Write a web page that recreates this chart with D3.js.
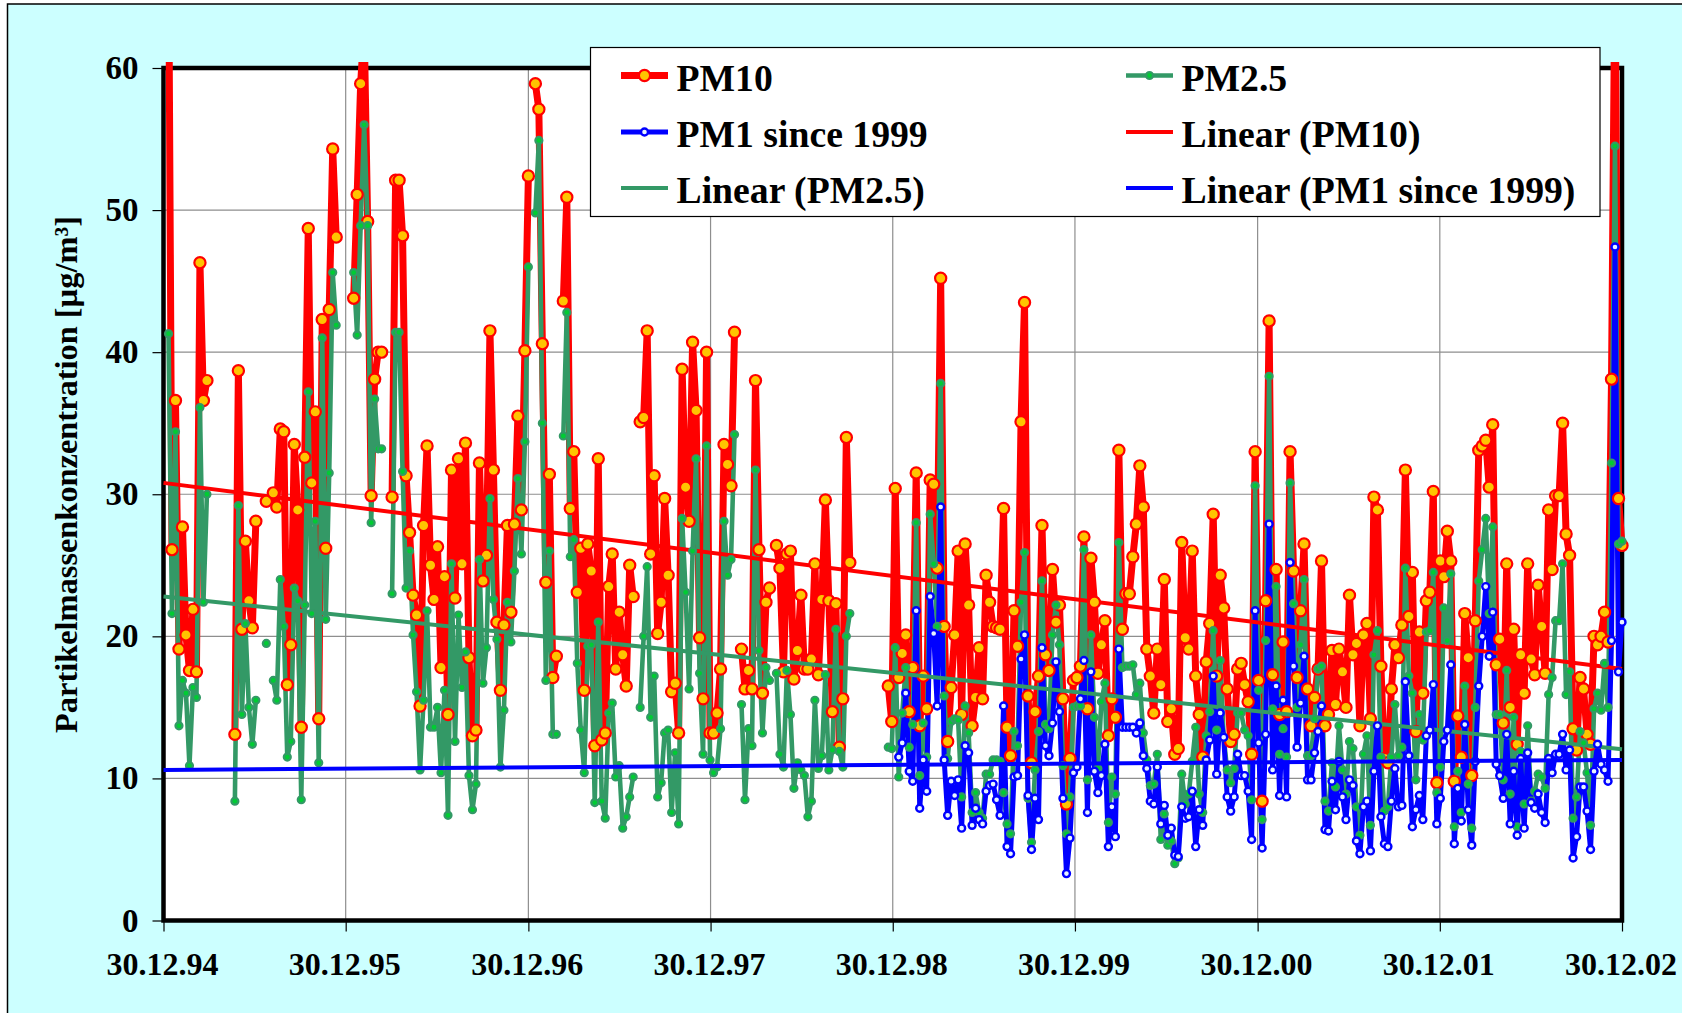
<!DOCTYPE html>
<html>
<head>
<meta charset="utf-8">
<script src="https://cdn.jsdelivr.net/npm/d3@7"></script>
<style>
  html, body { margin: 0; padding: 0; background: #fff; overflow: hidden; }
  text { font-family: "Liberation Serif", "Times New Roman", serif; font-weight: 700; fill: #000; }
</style>
</head>
<body>
<div id="chart"></div>
<script>
const n = null; // no sample that week

// weekly samples, first one on 09.01.95
const pm10 = [
  70, 26.1, 36.6, 19.1, 27.7, 20.1, 17.6, 21.9, 17.5, 46.3,
  36.6, 38.0, n, n, n, n, n, n, n, 13.1,
  38.7, 20.5, 26.7, 22.5, 20.6, 28.1, n, n, 29.5, n,
  30.1, 29.1, 34.6, 34.4, 16.6, 19.4, 33.5, 28.9, 13.6, 32.6,
  48.7, 30.8, 35.8, 14.2, 42.3, 26.2, 43.0, 54.3, 48.1, n,
  n, n, n, 43.8, 51.1, 58.9, 63, 49.2, 29.9, 38.1,
  40.0, 40.0, n, n, 29.8, 52.1, 52.1, 48.2, 31.3, 27.3,
  22.9, 21.5, 15.1, 27.8, 33.4, 25.0, 22.6, 26.3, 17.8, 24.2,
  14.5, 31.7, 22.7, 32.5, 25.1, 33.6, 18.5, 13.0, 13.4, 32.2,
  23.9, 25.7, 41.5, 31.7, 21.0, 16.2, 20.8, 27.8, 21.7, 27.9,
  35.5, 28.9, 40.1, 52.4, n, 58.9, 57.1, 40.6, 23.8, 31.4,
  17.1, 18.6, n, 43.6, 50.9, 29.0, 33.0, 23.1, 26.2, 16.2,
  26.5, 24.6, 12.3, 32.5, 12.7, 13.2, 23.5, 25.8, 17.7, 21.7,
  18.7, 16.5, 25.0, 22.8, n, 35.1, 35.4, 41.5, 25.8, 31.3,
  20.2, 22.4, 29.7, 24.3, 16.1, 16.7, 13.2, 38.8, 30.5, 28.1,
  40.7, 35.9, 19.9, 15.6, 40.0, 13.2, 13.2, 14.6, 17.7, 33.5,
  32.1, 30.6, 41.4, n, 19.1, 16.3, 17.6, 16.3, 38.0, 26.1,
  16.0, 22.4, 23.4, n, 26.4, 24.8, 17.5, 25.8, 26.0, 17.0,
  19.0, 22.9, 17.7, 17.7, 18.4, 25.1, 17.3, 22.6, 29.6, 22.5,
  14.7, 22.3, 12.2, 15.6, 34.0, 25.2, n, n, n, n,
  n, n, n, n, n, n, 16.5, 14.0, 30.4, 17.1,
  18.8, 20.1, 14.7, 17.8, 31.5, 13.7, 17.2, 14.9, 31.0, 30.7,
  24.8, 45.2, 20.7, 12.6, 16.4, 20.1, 26.0, 14.5, 26.5, 22.2,
  13.7, 15.7, 19.2, 15.6, 24.3, 22.4, 20.7, 20.6, 20.5, 29.0,
  13.6, 11.6, 21.8, 19.3, 35.1, 43.5, 15.8, 11.1, 14.7, 17.2,
  27.8, 18.7, 17.6, 24.7, 21.0, 22.2, 15.6, 8.2, 11.4, 16.9,
  17.1, 17.9, 27.0, 14.9, 25.5, 22.4, 17.4, 19.4, 21.1, 13.0,
  15.6, 14.3, 33.1, 20.5, 23.0, 23.0, 25.6, 27.9, 32.0, 29.1,
  19.1, 17.2, 14.6, 19.1, 16.6, 24.0, 14.0, 14.9, 11.7, 12.1,
  26.6, 19.9, 19.1, 26.0, 17.2, 14.5, 11.5, 18.2, 20.9, 28.6,
  17.2, 24.3, 22.0, 16.3, 12.6, 13.1, 17.7, 18.1, 16.6, 15.4,
  11.7, 33.0, 16.9, 8.4, 22.5, 42.2, 17.3, 24.7, 14.5, 19.6,
  14.7, 33.0, 24.6, 17.1, 21.8, 26.5, 16.3, 13.7, 15.7, 17.7,
  25.3, 13.7, 14.5, 19.0, 15.2, 19.1, 17.5, 15.0, 22.9, 18.7,
  19.5, 13.7, 20.1, 20.9, 14.2, 29.8, 28.9, 17.9, 11.4, 11.1,
  16.3, 19.4, 18.5, 20.8, 31.7, 21.4, 24.5, 13.3, 20.3, 16.0,
  22.5, 23.1, 30.2, 9.7, 25.3, 24.2, 27.4, 25.3, 9.8, 14.4,
  11.5, 21.6, 18.5, 10.2, 21.1, 33.1, 33.4, 33.8, 30.5, 34.9,
  18.0, 19.8, 13.9, 25.1, 15.0, 20.5, 12.4, 18.7, 16.0, 25.1,
  18.4, 17.3, 23.6, 20.7, 17.4, 28.9, 24.7, 29.9, 29.9, 35.0,
  27.2, 25.7, 13.5, 12.0, 17.1, 16.3, 13.1, 12.4, 20.0, 19.4,
  20.0, 21.7, 19.6, 38.1, 68, 29.7, 26.4
];

const pm25 = [
  41.3, 21.6, 34.4, 13.7, 16.9, 16.0, 10.9, 16.4, 15.7, 36.1,
  22.4, 30.0, n, n, n, n, n, n, n, 8.4,
  29.2, 14.5, 20.9, 15.0, 12.4, 15.5, n, n, 19.5, n,
  16.9, 15.5, 24.0, 20.7, 11.5, 12.6, 23.4, 22.5, 8.5, 22.2,
  37.2, 21.6, 28.1, 11.1, 41.0, 21.2, 31.5, 45.6, 41.9, n,
  n, n, n, 45.6, 41.2, 48.9, 56.0, 48.9, 28.0, 36.7,
  33.2, 33.2, n, n, 23.0, 41.4, 41.4, 31.6, 23.4, 26.0,
  20.1, 16.1, 10.6, 15.5, 21.8, 13.6, 13.6, 15.0, 10.4, 16.2,
  7.4, 25.1, 12.6, 21.5, 16.4, 18.9, 10.2, 7.8, 9.6, 25.4,
  16.7, 19.2, 29.7, 22.6, 19.8, 10.8, 14.8, 22.4, 19.6, 24.6,
  31.1, 25.8, 33.7, 46.0, n, 49.8, 54.9, 35.0, 16.9, 26.0,
  13.1, 13.1, n, 34.1, 42.8, 25.6, 26.8, 18.1, 13.4, 10.4,
  19.3, 19.4, 8.3, 21.0, 8.4, 7.2, 14.6, 15.3, 10.1, 10.9,
  6.5, 7.3, 8.7, 10.1, n, 15.0, 20.0, 24.9, 14.3, 17.2,
  8.7, 9.7, 13.2, 13.4, 7.6, 11.8, 6.8, 28.3, 23.1, 16.3,
  26.0, 32.5, 17.4, 11.7, 33.4, 11.3, 10.4, 10.8, 13.5, 28.1,
  24.3, 25.4, 34.2, n, 15.2, 8.5, 13.5, 12.3, 31.7, 19.0,
  13.2, 17.8, 16.9, n, 17.4, 11.7, 10.8, 17.6, 14.5, 9.3,
  11.1, 10.6, 10.2, 7.3, 8.4, 15.5, 10.7, 11.6, 17.3, 10.6,
  12.0, 20.5, 11.9, 10.8, 20.0, 21.6, n, n, n, n,
  n, n, n, n, n, n, 12.2, 12.1, 19.2, 10.1,
  14.6, 17.8, 12.2, 13.8, 28.0, 10.2, 13.9, 11.5, 28.6, 25.1,
  20.7, 37.8, 15.8, 11.4, 14.0, 14.2, 14.1, 8.7, 15.1, 13.2,
  7.6, 9.0, 7.6, 7.2, 10.3, 10.3, 11.3, 11.3, 11.2, 9.0,
  6.8, 6.1, 13.3, 12.3, 22.4, 25.9, 8.6, 5.5, 10.6, 13.3,
  23.9, 13.8, 13.5, 20.1, 22.2, 19.4, 10.9, 6.1, 8.7, 15.0,
  15.1, 15.1, 26.1, 9.9, 20.1, 14.3, 10.7, 15.4, 16.7, 6.9,
  10.1, 8.9, 26.6, 17.8, 17.9, 17.9, 18.0, 15.9, 16.7, 13.2,
  11.3, 9.5, 9.6, 11.7, 5.7, 7.5, 5.3, 5.6, 4.0, 4.4,
  10.3, 8.2, 8.9, 11.2, 13.6, 8.9, 7.6, 13.0, 14.7, 20.4,
  13.4, 18.3, 12.9, 10.6, 9.7, 10.7, 14.6, 14.6, 13.4, 13.0,
  8.5, 30.6, 16.2, 7.1, 19.7, 38.3, 14.9, 23.5, 11.7, 13.5,
  11.5, 30.8, 22.3, 15.0, 19.4, 24.0, 11.6, 11.6, 14.2, 17.7,
  17.9, 8.4, 7.7, 11.1, 9.4, 13.7, 10.6, 8.9, 12.6, 12.1,
  8.0, 6.0, 11.7, 13.0, 6.7, 18.7, 20.4, 11.5, 7.7, 8.0,
  11.5, 15.2, 11.6, 12.2, 24.8, 17.2, 16.0, 9.9, 14.5, 12.7,
  20.3, 20.4, 24.5, 9.0, 10.8, 22.0, 19.7, 24.4, 6.6, 10.5,
  7.6, 16.5, 9.6, 6.5, 15.0, 23.9, 26.1, 28.3, 21.6, 27.7,
  14.5, 14.5, 9.9, 17.6, 8.9, 14.3, 6.6, 11.9, 8.2, 13.7,
  8.4, 9.1, 10.3, 10.1, 9.3, 15.9, 17.1, 21.1, 21.1, 25.1,
  15.9, 17.5, 7.2, 8.7, 13.3, 12.5, 10.4, 6.7, 14.9, 16.0,
  14.8, 18.1, 15.0, 32.2, 54.5, 26.5, 26.7
];

// PM1 was only measured from sample 209 on
const pm1FirstSample = 209;
const pm1 = [
  11.5,
  12.5, 16.0, 10.5, 9.8, 21.8, 7.9, 11.3, 9.1, 22.8, 20.2,
  15.1, 29.1, 11.3, 7.4, 9.8, 8.8, 9.9, 6.5, 12.3, 11.8,
  6.7, 7.9, 7.1, 6.8, 9.1, 9.5, 9.6, 8.5, 7.4, 15.1,
  5.2, 4.7, 10.1, 10.2, 18.4, 20.1, 8.8, 5.0, 8.6, 7.1,
  19.2, 12.3, 11.6, 13.9, 18.2, 14.7, 8.6, 3.3, 5.8, 10.4,
  10.8, 15.6, 18.3, 7.6, 17.5, 10.5, 9.0, 10.2, 12.4, 5.2,
  8.0, 5.9, 19.1, 13.6, 13.6, 13.6, 13.6, 13.2, 13.9, 11.6,
  10.7, 8.4, 8.2, 10.8, 6.8, 8.1, 6.0, 6.5, 4.6, 4.5,
  8.0, 7.2, 7.3, 9.1, 5.2, 7.8, 6.7, 11.3, 12.7, 17.2,
  10.3, 14.6, 12.9, 8.7, 7.7, 8.7, 11.7, 10.2, 10.2, 9.1,
  5.7, 21.8, 12.5, 5.1, 13.1, 27.9, 10.6, 16.5, 8.8, 15.5,
  8.7, 25.2, 17.9, 12.2, 15.3, 18.6, 9.9, 9.9, 11.8, 13.3,
  15.1, 6.4, 6.3, 9.8, 7.8, 11.2, 8.7, 7.1, 9.9, 9.5,
  5.6, 4.7, 8.0, 8.4, 4.9, 10.5, 13.7, 7.3, 5.4, 5.2,
  8.4, 10.7, 8.0, 8.1, 16.8, 11.6, 6.6, 7.8, 8.8, 7.1,
  13.0, 13.4, 16.6, 6.8, 8.6, 12.6, 13.4, 18.0, 5.4, 9.3,
  7.0, 13.8, 7.8, 5.3, 11.2, 16.5, 20.0, 23.5, 18.6, 21.7,
  11.0, 10.2, 8.6, 13.1, 6.8, 10.5, 6.0, 11.4, 6.5, 11.8,
  8.3, 7.9, 8.9, 7.6, 6.9, 11.4, 10.4, 11.7, 11.7, 13.1,
  10.6, 12.0, 4.4, 5.9, 9.4, 9.4, 7.7, 5.0, 10.5, 12.4,
  11.0, 10.6, 9.8, 19.7, 47.4, 17.5, 21.0
];

// trend lines, value at left and right end of the axis
const trendPm10 = [30.8, 17.7];
const trendPm25 = [22.8, 12.05];
const trendPm1 = [10.6, 11.3];

const xTickLabels = ['30.12.94', '30.12.95', '30.12.96', '30.12.97', '30.12.98', '30.12.99', '30.12.00', '30.12.01', '30.12.02'];
const yTicks = [0, 10, 20, 30, 40, 50, 60];
const yTitle = 'Partikelmassenkonzentration [µg/m³]';

const RED = '#ff0000', GREEN = '#339966', BLUE = '#0000ff';
const GOLD = '#ffc400', LIME = '#00cc33', PALE = '#e8f4ff';

const W = 1682, H = 1013;
const margin = { top: 68, right: 60, bottom: 92.5, left: 163.5 };

const parseTick = d3.timeParse('%d.%m.%y');
const xDates = xTickLabels.map(parseTick);
const firstSample = new Date(1995, 0, 9);
const sampleDate = i => d3.timeDay.offset(firstSample, i * 7);

const x = d3.scaleTime().domain([xDates[0], xDates[xDates.length - 1]]).range([margin.left, W - margin.right]);
const y = d3.scaleLinear().domain([0, 60]).range([H - margin.bottom, margin.top]);

const svg = d3.select('#chart').append('svg').attr('width', W).attr('height', H).style('display', 'block');

// background panel runs off the right and bottom of the image
svg.append('rect').attr('x', 7.5).attr('y', 4).attr('width', W).attr('height', H)
  .attr('fill', '#ccffff').attr('stroke', '#000').attr('stroke-width', 1.5);

svg.append('rect').attr('x', x.range()[0]).attr('y', y(60)).attr('width', x.range()[1] - x.range()[0]).attr('height', y(0) - y(60))
  .attr('fill', '#fff');

svg.append('g').selectAll('line').data(yTicks.slice(1, -1)).join('line')
  .attr('x1', x.range()[0]).attr('x2', x.range()[1]).attr('y1', d => y(d)).attr('y2', d => y(d))
  .attr('stroke', '#8e8e8e').attr('stroke-width', 1.2);
svg.append('g').selectAll('line').data(xDates.slice(1, -1)).join('line')
  .attr('x1', d => x(d)).attr('x2', d => x(d)).attr('y1', y(60)).attr('y2', y(0))
  .attr('stroke', '#8e8e8e').attr('stroke-width', 1.2);

// axes
const axisY = svg.append('g').attr('transform', `translate(${margin.left},0)`)
  .call(d3.axisLeft(y).tickValues(yTicks).tickSize(11).tickPadding(14));
const axisX = svg.append('g').attr('transform', `translate(0,${H - margin.bottom})`)
  .call(d3.axisBottom(x).tickValues(xDates).tickFormat((d, i) => xTickLabels[i]).tickSize(11).tickPadding(21));
[axisY, axisX].forEach(g => {
  g.select('.domain').remove();
  g.selectAll('.tick line').attr('stroke', '#000').attr('stroke-width', 1.2);
  g.selectAll('.tick text').attr('fill', '#000')
    .style('font-family', '"Liberation Serif", serif').style('font-weight', 700);
});
axisY.selectAll('.tick text').attr('font-size', 33);
axisX.selectAll('.tick text').attr('font-size', 32).attr('dx', -1.5);

svg.append('text').attr('transform', `translate(76.5,474.5) rotate(-90)`)
  .attr('text-anchor', 'middle').attr('font-size', 32.4).text(yTitle);

// plot frame
svg.append('rect').attr('x', x.range()[0]).attr('y', y(60)).attr('width', x.range()[1] - x.range()[0]).attr('height', y(0) - y(60))
  .attr('fill', 'none').attr('stroke', '#000').attr('stroke-width', 4.5);

svg.append('clipPath').attr('id', 'plot-clip').append('rect')
  .attr('x', 150).attr('y', 62).attr('width', W - 150 - 50).attr('height', y(0) - 62);

const plot = svg.append('g').attr('clip-path', 'url(#plot-clip)');

const series = [
  { values: pm10, offset: 0, color: RED, width: 7 },
  { values: pm25, offset: 0, color: GREEN, width: 4.6 },
  { values: pm1, offset: pm1FirstSample, color: BLUE, width: 5 },
];
series.forEach(s => {
  s.points = s.values.map((v, i) => ({ date: sampleDate(i + s.offset), v })).filter(d => d.v !== null);
  s.line = d3.line().defined(d => d.v !== null)
    .x(d => x(d.date)).y(d => y(d.v));
  plot.append('path').datum(s.values.map((v, i) => ({ date: sampleDate(i + s.offset), v })))
    .attr('fill', 'none').attr('stroke', s.color).attr('stroke-width', s.width)
    .attr('stroke-linejoin', 'round').attr('d', s.line);
});

function drawTrend(vals, color) {
  plot.append('line')
    .attr('x1', x.range()[0]).attr('x2', x.range()[1])
    .attr('y1', y(vals[0])).attr('y2', y(vals[1]))
    .attr('stroke', color).attr('stroke-width', 4);
}

function drawMarkers(pts, r, fill, stroke, sw) {
  plot.append('g').selectAll('circle').data(pts).join('circle')
    .attr('cx', d => x(d.date)).attr('cy', d => y(d.v)).attr('r', r)
    .attr('fill', fill).attr('stroke', stroke).attr('stroke-width', sw);
}

drawTrend(trendPm10, RED);
drawMarkers(series[0].points, 5.6, GOLD, RED, 2.2);
drawTrend(trendPm25, GREEN);
drawMarkers(series[1].points, 3.5, LIME, GREEN, 2.2);
drawMarkers(series[2].points, 3.5, PALE, BLUE, 2.4);
drawTrend(trendPm1, BLUE);

// legend
const legend = svg.append('g');
legend.append('rect').attr('x', 590.5).attr('y', 47.5).attr('width', 1009.5).attr('height', 169)
  .attr('fill', '#fff').attr('stroke', '#000').attr('stroke-width', 1.2);

const legendRows = [
  { label: 'PM10', col: 0, row: 0, color: RED, width: 7, marker: [5.6, GOLD, 2.2] },
  { label: 'PM2.5', col: 1, row: 0, color: GREEN, width: 4.6, marker: [3.5, LIME, 2.2] },
  { label: 'PM1 since 1999', col: 0, row: 1, color: BLUE, width: 5, marker: [3.5, PALE, 2.4] },
  { label: 'Linear (PM10)', col: 1, row: 1, color: RED, width: 4 },
  { label: 'Linear (PM2.5)', col: 0, row: 2, color: GREEN, width: 4 },
  { label: 'Linear (PM1 since 1999)', col: 1, row: 2, color: BLUE, width: 4 },
];
const colX = [621, 1126], rowY = [75.5, 132, 188];
legendRows.forEach(d => {
  const lx = colX[d.col], ly = rowY[d.row];
  legend.append('line').attr('x1', lx).attr('x2', lx + 47).attr('y1', ly).attr('y2', ly)
    .attr('stroke', d.color).attr('stroke-width', d.width);
  if (d.marker) {
    legend.append('circle').attr('cx', lx + 23.5).attr('cy', ly).attr('r', d.marker[0])
      .attr('fill', d.marker[1]).attr('stroke', d.color).attr('stroke-width', d.marker[2]);
  }
  legend.append('text').attr('x', lx + 55.5).attr('y', ly + 15).attr('font-size', 37.7).text(d.label);
});
</script>
</body>
</html>
